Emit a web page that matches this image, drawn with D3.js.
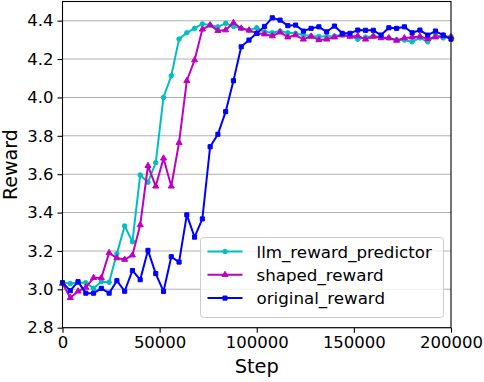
<!DOCTYPE html>
<html>
<head>
<meta charset="utf-8">
<script src="https://cdn.jsdelivr.net/npm/d3@7"></script>
<style>
    body { margin: 0; background: #fff; }
    svg { font-family: "DejaVu Sans", sans-serif; display: block; }
</style>
</head>
<body>
<div id="chart"></div>
<script>

// steps: 0 .. 200000 every 4000
let steps = d3.range(0, 200001, 4000);

let llmReward = [3.035, 3.03, 3.035, 3.034, 3.005, 3.04, 3.037, 3.186, 3.33, 3.248,
    3.596, 3.558, 3.66, 4.0, 4.113, 4.304, 4.337, 4.36, 4.383, 4.377,
    4.368, 4.386, 4.37, 4.36, 4.35, 4.363, 4.342, 4.337, 4.346, 4.337,
    4.334, 4.325, 4.32, 4.318, 4.318, 4.32, 4.325, 4.32, 4.303, 4.314,
    4.32, 4.314, 4.31, 4.30, 4.299, 4.29, 4.31, 4.29, 4.325, 4.31, 4.318];

let shapedReward = [3.03, 2.956, 2.99, 3.01, 3.06, 3.06, 3.19, 3.163, 3.155, 3.178,
    3.335, 3.644, 3.537, 3.683, 3.537, 3.764, 4.087, 4.195, 4.355, 4.377,
    4.348, 4.351, 4.389, 4.36, 4.35, 4.334, 4.33, 4.32, 4.34, 4.314,
    4.325, 4.303, 4.318, 4.30, 4.303, 4.314, 4.325, 4.318, 4.32, 4.303,
    4.318, 4.31, 4.31, 4.297, 4.31, 4.314, 4.318, 4.305, 4.314, 4.32, 4.314];

let originalReward = [3.035, 2.993, 3.04, 2.98, 2.98, 3.005, 2.98, 3.045, 2.99, 3.098,
    3.05, 3.203, 3.082, 2.989, 3.17, 3.142, 3.388, 3.272, 3.367, 3.743,
    3.808, 3.926, 4.087, 4.264, 4.299, 4.334, 4.37, 4.415, 4.403, 4.374,
    4.377, 4.346, 4.36, 4.368, 4.342, 4.372, 4.334, 4.334, 4.351, 4.35,
    4.35, 4.325, 4.363, 4.36, 4.368, 4.337, 4.351, 4.325, 4.346, 4.325, 4.304];

let seriesNames = ["llm_reward_predictor", "shaped_reward", "original_reward"];
let seriesColors = ["#00bfbf", "#bf00bf", "#0000ff"];
let seriesMarkers = ["circle", "triangle", "square"];

let xTicks = [0, 50000, 100000, 150000, 200000];
let yTicks = [2.8, 3.0, 3.2, 3.4, 3.6, 3.8, 4.0, 4.2, 4.4];

function drawChart(container) {
    let width = 484, height = 382;
    let margin = {left: 62.5, right: 33, top: 1.5, bottom: 54.3};

    let svg = d3.select(container)
        .append("svg")
        .attr("width", width)
        .attr("height", height);

    let x = d3.scaleLinear()
        .domain([0, 200000])
        .range([margin.left, width - margin.right]);

    let y = d3.scaleLinear()
        .domain([2.8, 4.5])
        .range([height - margin.bottom, margin.top]);

    // horizontal grid
    svg.append("g")
        .selectAll("line")
        .data(yTicks)
        .enter().append("line")
        .attr("x1", x.range()[0])
        .attr("x2", x.range()[1])
        .attr("y1", d => y(d))
        .attr("y2", d => y(d))
        .attr("stroke", "#b0b0b0")
        .attr("stroke-width", 1.1);

    let xAxis = svg.append("g")
        .attr("transform", "translate(0," + y.range()[0] + ")")
        .call(d3.axisBottom(x).tickValues(xTicks).tickFormat(d3.format("d")).tickSize(5).tickPadding(4));

    let yAxis = svg.append("g")
        .attr("transform", "translate(" + x.range()[0] + ",0)")
        .call(d3.axisLeft(y).tickValues(yTicks).tickFormat(d3.format(".1f")).tickSize(5).tickPadding(4));

    [xAxis, yAxis].forEach(function(g) {
        g.select(".domain").remove();
        g.selectAll(".tick line").attr("stroke", "#000").attr("stroke-width", 1.1);
        g.selectAll(".tick text")
            .attr("fill", "#000")
            .style("font-size", "16.5px")
            .style("font-family", "DejaVu Sans");
    });

    let allSeries = [llmReward, shapedReward, originalReward];

    let line = d3.line()
        .x((d, i) => x(steps[i]))
        .y(d => y(d));

    let symbolTypes = {
        circle: d3.symbolCircle,
        triangle: d3.symbolTriangle,
        square: d3.symbolSquare
    };
    let symbolSizes = {circle: 16, triangle: 16, square: 17};

    let plot = svg.append("g");

    allSeries.forEach(function(values, s) {
        plot.append("path")
            .datum(values)
            .attr("d", line)
            .attr("fill", "none")
            .attr("stroke", seriesColors[s])
            .attr("stroke-width", 2)
            .attr("stroke-linejoin", "round");

        plot.append("g")
            .selectAll("path")
            .data(values)
            .enter().append("path")
            .attr("d", d3.symbol().type(symbolTypes[seriesMarkers[s]]).size(symbolSizes[seriesMarkers[s]]))
            .attr("transform", (d, i) => "translate(" + x(steps[i]) + "," + y(d) + ")")
            .attr("fill", seriesColors[s])
            .attr("stroke", seriesColors[s])
            .attr("stroke-width", 1);
    });

    // frame
    svg.append("rect")
        .attr("x", x.range()[0])
        .attr("y", y.range()[1])
        .attr("width", x.range()[1] - x.range()[0])
        .attr("height", y.range()[0] - y.range()[1])
        .attr("fill", "none")
        .attr("stroke", "#000")
        .attr("stroke-width", 1.1);

    // axis labels
    svg.append("text")
        .attr("x", (x.range()[0] + x.range()[1]) / 2)
        .attr("y", 373)
        .attr("text-anchor", "middle")
        .style("font-size", "19.4px")
        .text("Step");

    svg.append("text")
        .attr("transform", "translate(17," + (y.range()[0] + y.range()[1]) / 2 + ") rotate(-90)")
        .attr("text-anchor", "middle")
        .style("font-size", "19px")
        .text("Reward");

    // legend
    let legend = svg.append("g")
        .attr("transform", "translate(200.5,237.5)");

    legend.append("rect")
        .attr("width", 243)
        .attr("height", 80)
        .attr("rx", 3)
        .attr("fill", "#fff")
        .attr("fill-opacity", 0.8)
        .attr("stroke", "#cccccc")
        .attr("stroke-width", 1);

    let items = legend.selectAll(".item")
        .data(seriesNames)
        .enter().append("g")
        .attr("class", "item")
        .attr("transform", (d, i) => "translate(0," + (14 + i * 23.3) + ")");

    items.append("line")
        .attr("x1", 7)
        .attr("x2", 42)
        .attr("stroke", (d, i) => seriesColors[i])
        .attr("stroke-width", 2);

    items.append("path")
        .attr("d", (d, i) => d3.symbol().type(symbolTypes[seriesMarkers[i]]).size(symbolSizes[seriesMarkers[i]])())
        .attr("transform", "translate(24.5,0)")
        .attr("fill", (d, i) => seriesColors[i])
        .attr("stroke", (d, i) => seriesColors[i]);

    items.append("text")
        .attr("x", 56)
        .attr("y", 6)
        .style("font-size", "16.7px")
        .text(d => d);
}

drawChart("#chart");
</script>
</body>
</html>
